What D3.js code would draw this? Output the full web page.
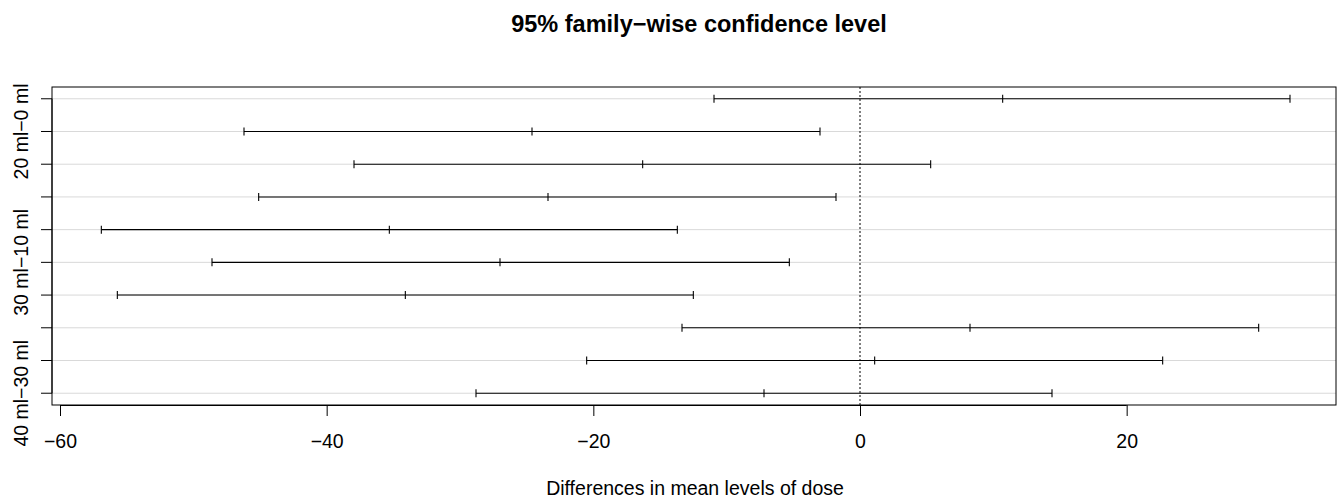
<!DOCTYPE html>
<html><head><meta charset="utf-8">
<script src="https://cdn.jsdelivr.net/npm/d3@7"></script>
<style>body{margin:0;background:#fff}svg{display:block}text{font-family:"Liberation Sans",Arial,sans-serif}</style>
</head><body>
<svg id="c" width="1341" height="498"></svg>
<script>
const comparisons = ["10 ml\u22120 ml","20 ml\u22120 ml","30 ml\u22120 ml","40 ml\u22120 ml","20 ml\u221210 ml","30 ml\u221210 ml","40 ml\u221210 ml","30 ml\u221220 ml","40 ml\u221220 ml","40 ml\u221230 ml"];
const diffs = [10.7,-24.6,-16.3,-23.4,-35.3,-27.0,-34.1,8.25,1.1,-7.2];
const lower = [-10.95,-46.2,-37.95,-45.1,-56.9,-48.6,-55.7,-13.35,-20.5,-28.8];
const upper = [32.25,-3.0,5.3,-1.8,-13.7,-5.3,-12.5,29.9,22.7,14.4];
const shownLabels = ["20 ml\u22120 ml","30 ml\u221210 ml","40 ml\u221230 ml"];
const xTicks = [-60,-40,-20,0,20];

const L=52,R=1336,T=87,B=405;
const svg=d3.select("#c");
const n=comparisons.length;
const x=d3.scaleLinear().domain([-60.6,35.7]).range([L,R]);
const y=d3.scaleLinear().domain([n+0.36,0.64]).range([T,B]);
const yPos=i=>y(n-i);

// grid
svg.selectAll("line.grid").data(comparisons).enter().append("line")
 .attr("x1",L).attr("x2",R).attr("y1",(d,i)=>yPos(i)).attr("y2",(d,i)=>yPos(i))
 .attr("stroke","#d9d9d9").attr("stroke-width",1);

// zero line
svg.append("line").attr("x1",x(0)).attr("x2",x(0)).attr("y1",T).attr("y2",B)
 .attr("stroke","#000").attr("stroke-dasharray","2,2").attr("stroke-width",1);

// intervals
const g=svg.append("g").attr("stroke","#000").attr("stroke-width",1.1);
comparisons.forEach((c,i)=>{
  const yy=yPos(i);
  g.append("line").attr("x1",x(lower[i])).attr("x2",x(upper[i])).attr("y1",yy).attr("y2",yy);
  [lower[i],diffs[i],upper[i]].forEach(v=>{
    g.append("line").attr("x1",x(v)).attr("x2",x(v)).attr("y1",yy-4).attr("y2",yy+4);
  });
});

// box
svg.append("rect").attr("x",L).attr("y",T).attr("width",R-L).attr("height",B-T)
 .attr("fill","none").attr("stroke","#000").attr("stroke-width",1);

// x axis
const xa=svg.append("g").attr("transform",`translate(0,${B})`)
 .call(d3.axisBottom(x).tickValues(xTicks).tickSize(11).tickFormat(d=>d<0?"\u2212"+Math.abs(d):d));
xa.select(".domain").attr("d",`M${x(-60)},0.5H${x(20)}`).attr("stroke","#000");
xa.selectAll("text").attr("y",43).attr("dy",null).attr("font-size","19.5px").attr("fill","#000")
  .style("font-family","Liberation Sans, Arial, sans-serif");
xa.selectAll("line").attr("stroke","#000");

// y axis (R style)
const yt=svg.append("g");
yt.append("line").attr("x1",L).attr("x2",L).attr("y1",yPos(0)).attr("y2",yPos(n-1)).attr("stroke","#000");
comparisons.forEach((c,i)=>{
  yt.append("line").attr("x1",L).attr("x2",L-11).attr("y1",yPos(i)).attr("y2",yPos(i)).attr("stroke","#000");
  if(shownLabels.includes(c)){
    yt.append("text").attr("transform",`translate(28,${yPos(i)}) rotate(-90)`)
      .attr("text-anchor","middle").attr("font-size","19.5px").text(c);
  }
});

svg.append("text").attr("x",(L+R)/2+5).attr("y",32).attr("text-anchor","middle")
 .attr("font-size","23.5px").attr("font-weight","bold").text("95% family\u2212wise confidence level");
svg.append("text").attr("x",(L+R)/2+1).attr("y",495).attr("text-anchor","middle")
 .attr("font-size","19.5px").text("Differences in mean levels of dose");
</script>
</body></html>
